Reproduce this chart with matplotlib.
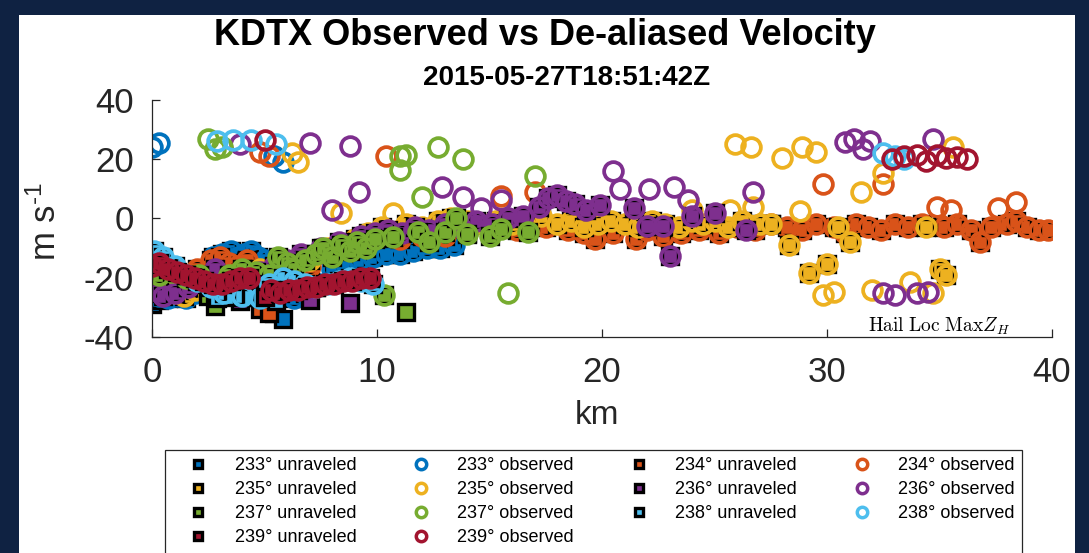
import numpy as np
import matplotlib.pyplot as plt
from matplotlib.lines import Line2D
from matplotlib.patches import Rectangle

nan = np.nan

plt.rcParams['font.family'] = ['Liberation Sans', 'DejaVu Sans']
plt.rcParams['axes.unicode_minus'] = False
plt.rcParams['mathtext.fontset'] = 'custom'
plt.rcParams['mathtext.rm'] = 'Liberation Sans'
plt.rcParams['mathtext.it'] = 'Liberation Sans:italic'

# range (km), observed velocity and unraveled velocity (m/s) per azimuth
R233 = [0.0, 0.3, 0.3, 0.7, 1.1, 1.5, 1.9, 2.3, 2.7, 3.1, 3.5, 3.8, 4.1, 4.4, 4.7, 5.0,
        5.4, 5.8, 6.3, 6.8, 7.4, 8.0, 8.6, 9.2, 9.8, 10.4, 11.0, 11.6, 12.2, 12.8, 13.4]
OBS233 = [24.0, 25.5, -26, -27, -26, -27, -25, -24, -13, -12, -11, -13, -12, -11, -13, -14,
          21.0, 19.0, -27, -25, -22, -17, -15, -14, -13, -12, -12, -11, -10, -10, -9]
UNR233 = [-29.0, -27.5, -26, -27, -26, -27, -25, -24, -13, -12, -11, -13, -12, -11, -13, -14,
          -32.0, -34.0, -27, -25, -22, -17, -15, -14, -13, -12, -12, -11, -10, -10, -9]

R234 = [0.2, 0.8, 1.4, 2.0, 2.6, 3.0, 3.4, 3.8, 4.2, 4.6, 4.8, 5.2, 6.2, 7.0, 7.8, 8.6,
        9.4, 10.4, 11.0, 12.0, 13.0, 14.0, 15.0, 15.5, 16.2, 17.0, 17.5, 18.5, 19.2, 19.7,
        20.5, 21.5, 22.0, 22.7, 23.5, 24.3, 25.2, 26.0, 26.8, 27.5, 28.2, 28.9, 29.5, 29.8,
        30.3, 30.8, 31.3, 31.8, 32.4, 32.5, 33.0, 33.6, 34.2, 34.9, 35.2, 35.5, 35.8, 36.4,
        36.8, 37.3, 37.6, 38.0, 38.4, 38.4, 38.9, 39.4, 39.8]
OBS234 = [-22, -21, -20, -17, -14, -13, -15, -16, -14, -17, 22.5, 21.0, -18, -16, -12, -9,
          -8, 21.0, -7, -6, -6, -5, -4, 7.5, -4, 8.8, -3, -4, -5, -7,
          -5, -7, -4, -6, -5, -4, -5, -3, -4, -2, -3, -4, -2, 11.5,
          -3, -5, -2, -3, -4, 11.5, -2, -3, -2, 4.0, -3, 3.0, -2, -4,
          -8, -3, 3.7, -2, 5.7, -1, -3, -4, -4]
UNR234 = [-22, -21, -20, -17, -14, -13, -15, -16, -14, -17, -30.5, -32.0, -18, -16, -12, -9,
          -8, nan, -7, -6, -6, -5, -4, nan, -4, nan, -3, -4, -5, -7,
          -5, -7, -4, -6, -5, -4, -5, -3, -4, -2, -3, -4, -2, nan,
          -3, -5, -2, -3, -4, nan, -2, -3, -2, nan, -3, nan, -2, -4,
          -8, -3, nan, -2, nan, -1, -3, -4, -4]

R235 = [0.4, 0.9, 1.4, 1.9, 2.4, 3.0, 3.6, 4.2, 4.8, 6.2, 6.5, 7.0, 7.8, 8.4, 9.0, 9.6,
        10.2, 10.7, 11.3, 12.0, 12.7, 13.3, 14.0, 14.7, 15.3, 16.0, 16.7, 17.3, 18.0, 18.6,
        19.2, 19.8, 20.4, 21.0, 21.6, 22.2, 22.8, 23.4, 24.0, 24.0, 24.5, 25.0, 25.6, 25.7,
        25.9, 26.2, 26.6, 26.7, 27.0, 27.5, 28.0, 28.3, 28.8, 28.9, 29.2, 29.5, 29.8, 30.0,
        30.3, 30.5, 31.0, 31.5, 32.0, 32.5, 33.7, 34.4, 34.7, 35.0, 35.3, 35.6]
OBS235 = [-25, -25, -26, -24, -22, -21, -19, -18, -17, 22.0, 19.0, -14, -10, 2.0, -7, -5,
          -3, 2.0, -2, -3, -1, 0, -1, -2, -1, -2, -1, 1, -2, -1,
          -3, -2, -1, -2, -3, -1, -2, -3, -1, 3.0, -2, -1, -3, 3.0,
          25.0, -1, 24.3, 4.0, -2, -2, 20.3, -8.8, 2.4, 24.3, -18.3, 22.3, -25.7, -15.2,
          -24.7, -3, -7.8, 8.8, -24.0, 15.5, -21.6, -3, -25.0, -17.2, -19.0, 24.3]
UNR235 = [-25, -25, -26, -24, -22, -21, -19, -18, -17, nan, nan, -14, -10, nan, -7, -5,
          -3, nan, -2, -3, -1, 0, -1, -2, -1, -2, -1, 1, -2, -1,
          -3, -2, -1, -2, -3, -1, -2, -3, -1, nan, -2, -1, -3, nan,
          nan, -1, nan, nan, -2, -2, nan, -8.8, nan, nan, -18.3, nan, nan, -15.2,
          nan, -3, -7.8, nan, nan, nan, nan, -3, nan, -17.2, -19.0, nan]

R236 = [0.1, 0.5, 1.0, 1.6, 2.2, 2.8, 3.9, 4.2, 4.8, 5.4, 6.0, 6.6, 7.0, 7.5, 8.0, 8.3,
        8.8, 9.2, 9.3, 9.9, 10.5, 11.1, 11.7, 12.3, 12.9, 13.0, 13.7, 13.8, 14.4, 14.6,
        15.1, 15.5, 15.8, 16.5, 17.2, 17.6, 18.0, 18.4, 18.8, 19.3, 19.9, 20.5, 20.8, 21.4,
        22.0, 22.1, 22.7, 23.0, 23.2, 23.8, 24.0, 25.0, 26.4, 26.7, 30.8, 31.2, 31.6, 31.9,
        34.7, 32.5, 33.0, 34.0, 34.5]
OBS236 = [-24, -26, -25, -23, -21, -17, 25.0, -19, -18, -16, -14, -12, 25.5, -10, 3.0, -8,
          24.5, 9.0, -6, -5, -4, -5, -3, -4, 10.8, -2, -3, 7.4, -1, 3.7,
          -2, 6.4, 0, 1, 4, 7, 8, 6, 5, 3, 4.7, 15.9, 9.8, 3.7,
          -2.5, 9.8, -2.5, -12.8, 10.5, 6.4, 0.7, 2.0, -4, 9.1, 25.7, 26.7, 23.3, 26.0,
          26.7, -25.0, -25.7, -25.0, -24.7]
UNR236 = [-24, -26, -25, -23, -21, -17, -28.0, -19, -18, -16, -14, -12, -27.5, -10, nan, -8,
          -28.5, nan, -6, -5, -4, -5, -3, -4, nan, -2, -3, nan, -1, nan,
          -2, nan, 0, 1, 4, 7, 8, 6, 5, 3, 4.7, nan, nan, 3.7,
          -2.5, nan, -2.5, -12.8, nan, nan, 0.7, 2.0, -4, nan, nan, nan, nan, nan,
          nan, nan, nan, nan, nan]

R237 = [0.3, 0.9, 1.5, 2.1, 2.5, 2.8, 3.1, 3.4, 4.0, 4.6, 5.2, 5.6, 6.0, 6.3, 6.8, 7.3,
        7.6, 8.0, 8.4, 8.8, 9.1, 9.5, 9.9, 10.3, 10.7, 11.0, 11.0, 11.3, 11.8, 12.0, 12.3,
        12.7, 13.0, 13.5, 13.8, 14.0, 15.0, 15.5, 15.8, 16.7, 17.0]
OBS237 = [-19, -18, -20, -19, 26.7, 23.3, 24.0, -19, -17, -18, -19, -13, -15, -17, -14, -12,
          -10, -13, -9, -11, -8, -10, -7, -25.7, -6.4, 21.0, 16.5, 21.5, -4.7, 7.1, -7.8,
          24.0, -4.4, 0.3, 20.0, -5.4, -6.0, -3.7, -25.0, -4.4, 14.2]
UNR237 = [-19, -18, -20, -19, -26.3, -29.7, nan, -19, -17, -18, -19, -13, -15, -17, -14, -12,
          -10, -13, -9, -11, -8, -10, -7, -25.7, -6.4, nan, nan, -31.5, -4.7, nan, -7.8,
          nan, -4.4, 0.3, nan, -5.4, -6.0, -3.7, nan, -4.4, nan]

R238 = [0.1, 0.5, 1.0, 1.5, 2.0, 2.6, 2.9, 3.2, 3.6, 4.0, 4.4, 4.8, 5.2, 5.5, 5.8, 6.3,
        6.8, 7.3, 7.8, 8.3, 8.8, 9.3, 9.8, 32.5, 33.0, 33.4]
OBS238 = [-11, -13, -16, -19, -21, -23, 26.0, -25, 26.5, -26, 26.4, -27, -22, 25.0, -20, -21,
          -22, -23, -22, -21, -20, -21, -22, 22.0, 21.0, 20.0]
UNR238 = [-11, -13, -16, -19, -21, -23, -27.0, -25, -26.5, -26, -26.6, -27, -22, -28.0, -20, -21,
          -22, -23, -22, -21, -20, -21, -22, nan, nan, nan]

R239 = [0.0, 0.3, 0.7, 1.1, 1.5, 1.9, 2.3, 2.7, 3.1, 3.5, 3.9, 4.3, 5.0, 5.3, 5.7, 6.1,
        6.5, 6.9, 7.3, 7.7, 8.1, 8.5, 8.9, 9.3, 9.7, 32.9, 33.4, 34.0, 34.4, 34.9, 35.3,
        35.8, 36.2]
OBS239 = [-16, -15, -17, -18, -19, -20, -21, -22, -22, -21, -20, -20, 26.5, -24, -25, -24,
          -24, -23, -23, -22, -22, -21, -21, -20, -20, 20.0, 21.0, 21.6, 19.3, 21.6, 20.5,
          20.6, 20.0]
UNR239 = [-16, -15, -17, -18, -19, -20, -21, -22, -22, -21, -20, -20, -26.5, -24, -25, -24,
          -24, -23, -23, -22, -22, -21, -21, -20, -20, nan, nan, nan, nan, nan, nan,
          nan, nan]

AZIMUTHS = [233, 234, 235, 236, 237, 238, 239]
RANGES = [R233, R234, R235, R236, R237, R238, R239]
OBSERVED = [OBS233, OBS234, OBS235, OBS236, OBS237, OBS238, OBS239]
UNRAVELED = [UNR233, UNR234, UNR235, UNR236, UNR237, UNR238, UNR239]
COLORS = ['#0072BD', '#D95319', '#EDB120', '#7E2F8E', '#77AC30', '#4DBEEE', '#A2142F']

AX_COLOR = '#262626'

fig = plt.figure(figsize=(10.89, 5.53), dpi=100)
fig.patch.set_facecolor('#0f2242')
# white panel inside the dark frame, kept behind the axes
fig.patches.append(Rectangle((19 / 1089, 0), (1075 - 19) / 1089, (553 - 15) / 553,
                             transform=fig.transFigure, facecolor='white',
                             edgecolor='none', zorder=-5))

ax = fig.add_axes([152 / 1089, 1 - 337 / 553, 900 / 1089, 237 / 553])
ax.set_facecolor('none')

for az, r, obs, unr, c in zip(AZIMUTHS, RANGES, OBSERVED, UNRAVELED, COLORS):
    ax.plot(r, unr, 's', ms=11, mfc=c, mec='k', mew=2.4, linestyle='none')
    ax.plot(r, obs, 'o', ms=13.5, mfc='none', mec=c, mew=2.7, linestyle='none')

ax.set_xlim(0, 40)
ax.set_ylim(-40, 40)
ax.set_xticks([0, 10, 20, 30, 40])
ax.set_yticks([-40, -20, 0, 20, 40])
ax.spines['top'].set_visible(False)
ax.spines['right'].set_visible(False)
for s in ('left', 'bottom'):
    ax.spines[s].set_color(AX_COLOR)
    ax.spines[s].set_linewidth(0.9)
ax.tick_params(direction='in', length=6, width=0.9, color=AX_COLOR,
               labelcolor=AX_COLOR, labelsize=25)
ax.tick_params(axis='x', pad=14)
ax.tick_params(axis='y', pad=13)

ax.text(35.0, -38.3, r'$\mathrm{Hail\ Loc\ Max}Z_H$', math_fontfamily='cm',
        fontsize=14, ha='center', va='baseline', color='k')

fig.text(544.5 / 1089, 1 - 45 / 553, 'KDTX Observed vs De-aliased Velocity',
         fontsize=26, fontweight='bold', ha='center', va='baseline')
fig.text(567 / 1089, 1 - 85 / 553, '2015-05-27T18:51:42Z',
         fontsize=20, fontweight='bold', ha='center', va='baseline')
fig.text(597 / 1089, 1 - 424 / 553, 'km', fontsize=24, color=AX_COLOR,
         ha='center', va='baseline')
fig.text(46 / 1089, 1 - 222 / 553, r'm s$^{\text{-1}}$', fontsize=25, color=AX_COLOR,
         rotation=90, ha='center', va='center')

# legend: unraveled squares and observed circles, laid out row by row
handles = {}
for az, c in zip(AZIMUTHS, COLORS):
    handles[(az, 'u')] = Line2D([], [], marker='s', ms=5.5, mfc=c, mec='k', mew=2.4,
                                linestyle='none', label=f'{az}° unraveled')
    handles[(az, 'o')] = Line2D([], [], marker='o', ms=7.5, mfc='none', mec=c, mew=2.5,
                                linestyle='none', label=f'{az}° observed')
order = [(233, 'u'), (235, 'u'), (237, 'u'), (239, 'u'),
         (233, 'o'), (235, 'o'), (237, 'o'), (239, 'o'),
         (234, 'u'), (236, 'u'), (238, 'u'),
         (234, 'o'), (236, 'o'), (238, 'o')]
leg = fig.legend(handles=[handles[k] for k in order], ncol=4, loc='upper left',
                 bbox_to_anchor=(165 / 1089, 1 - 450 / 553), borderaxespad=0,
                 fontsize=13, handlelength=2.9, handletextpad=0.55,
                 columnspacing=2.15, labelspacing=0.39, borderpad=0.4,
                 fancybox=False, framealpha=1)
leg.get_frame().set_edgecolor(AX_COLOR)
leg.get_frame().set_linewidth(0.9)

plt.savefig('out.png', dpi=100, facecolor=fig.get_facecolor())
